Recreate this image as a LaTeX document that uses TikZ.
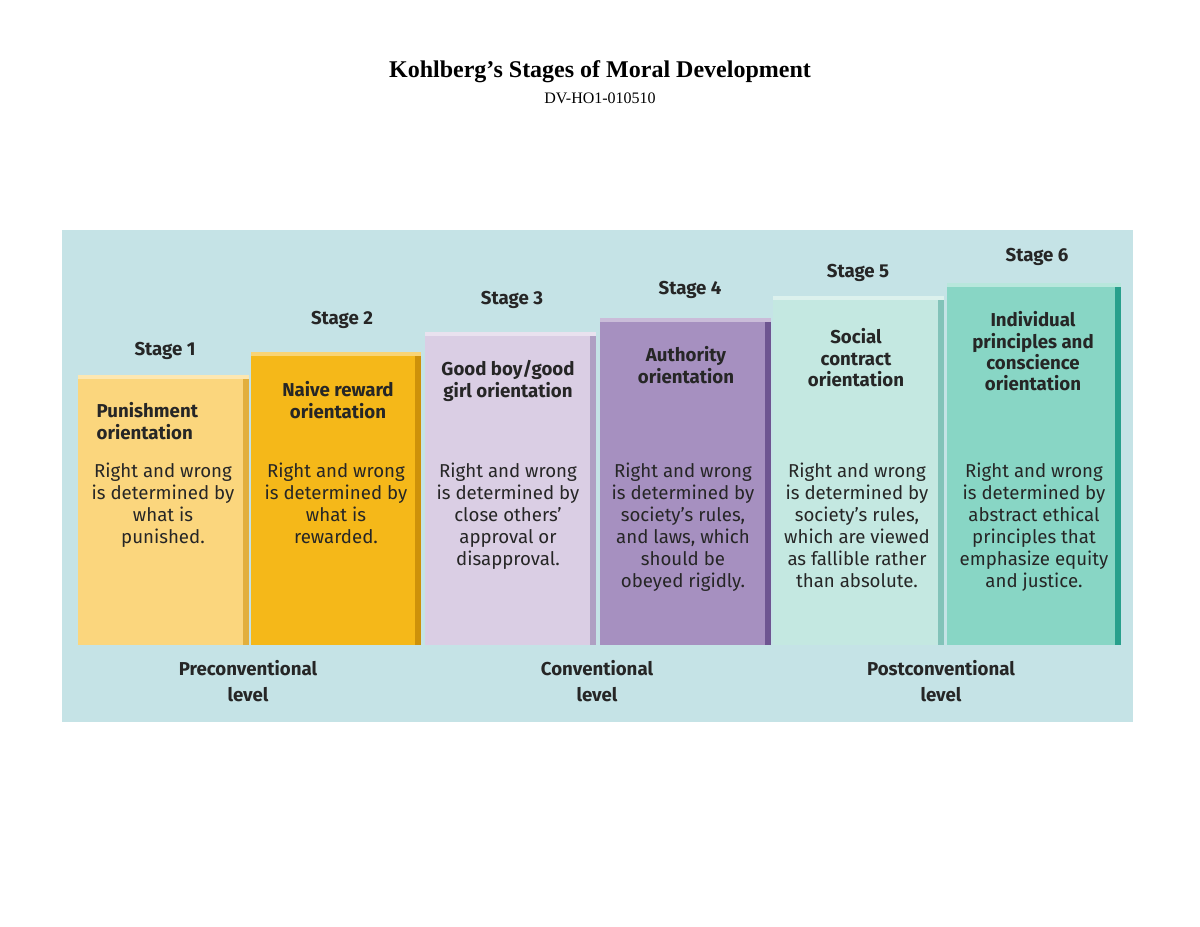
\documentclass[tikz,border=0pt]{standalone}
\usepackage{fontspec}
\setmainfont{Liberation Serif}
\newfontfamily\fira{Fira Sans}
\definecolor{bgc}{RGB}{197,227,230}
\definecolor{ca}{RGB}{251,214,125}\definecolor{cad}{RGB}{226,175,60}
\definecolor{cb}{RGB}{245,184,25}\definecolor{cbd}{RGB}{205,145,10}
\definecolor{cc}{RGB}{218,206,228}\definecolor{ccd}{RGB}{175,160,195}
\definecolor{cdd}{RGB}{110,85,145}\definecolor{cdx}{RGB}{166,144,192}
\definecolor{ce}{RGB}{196,232,225}\definecolor{ced}{RGB}{130,195,185}
\definecolor{cf}{RGB}{136,214,197}\definecolor{cfd}{RGB}{40,160,140}
\begin{document}
\begin{tikzpicture}[x=0.75pt,y=-0.75pt,
  stg/.style={font=\fira\fontsize{14}{16}\selectfont\bfseries, text=black!85},
  ttl/.style={font=\fira\fontsize{14}{16}\selectfont\bfseries, align=center, text=black!85},
  body/.style={font=\fira\fontsize{14}{16.5}\selectfont, align=center, text=black!85},
  lvl/.style={font=\fira\fontsize{14}{19.5}\selectfont\bfseries, align=center, text=black!85}]
\useasboundingbox (0,0) rectangle (1200,927);
\fill[white] (0,0) rectangle (1200,927);
\node[font=\fontsize{18}{20}\selectfont\bfseries] (title) at (600,72) {Kohlberg’s Stages of Moral Development};
\node[font=\fontsize{12}{14}\selectfont] (sub) at (600,98) {DV-HO1-010510};
\fill[bgc] (62,230) rectangle (1133,722);
\def\col#1#2#3#4#5{%
  \fill[#4] (#1,#3) rectangle (#2,645);
  \fill[#5] (#2-6,#3) rectangle (#2,645);
  \fill[#4!60!white] (#1,#3) rectangle (#2,#3+4);}
\col{78}{249}{375}{ca}{cad}
\col{251}{421}{352}{cb}{cbd}
\col{425}{596}{332}{cc}{ccd}
\col{600}{771}{318}{cdx}{cdd}
\col{773}{944}{296}{ce}{ced}
\col{947}{1121}{283}{cf}{cfd}
\node[stg] (s1) at (165,351) {Stage 1};
\node[stg] (s2) at (342,320) {Stage 2};
\node[stg] (s3) at (512,300) {Stage 3};
\node[stg] (s4) at (690,290) {Stage 4};
\node[stg] (s5) at (858,273) {Stage 5};
\node[stg] (s6) at (1037,257) {Stage 6};
\node[ttl,anchor=north west,align=left] (t1) at (92,398) {Punishment\\orientation};
\node[ttl,anchor=north] (t2) at (338,377) {Naive reward\\orientation};
\node[ttl,anchor=north] (t3) at (508,356) {Good boy/good\\girl orientation};
\node[ttl,anchor=north] (t4) at (686,342) {Authority\\orientation};
\node[ttl,anchor=north] (t5) at (856,324) {Social\\contract\\orientation};
\node[ttl,anchor=north] (t6) at (1033,307) {Individual\\principles and\\conscience\\orientation};
\node[body,anchor=north] (b1) at (163,458) {Right and wrong\\is determined by\\what is\\punished.};
\node[body,anchor=north] (b2) at (336,458) {Right and wrong\\is determined by\\what is\\rewarded.};
\node[body,anchor=north] (b3) at (508,458) {Right and wrong\\is determined by\\close others’\\approval or\\disapproval.};
\node[body,anchor=north] (b4) at (683,458) {Right and wrong\\is determined by\\society’s rules,\\and laws, which\\should be\\obeyed rigidly.};
\node[body,anchor=north] (b5) at (857,458) {Right and wrong\\is determined by\\society’s rules,\\which are viewed\\as fallible rather\\than absolute.};
\node[body,anchor=north] (b6) at (1034,458) {Right and wrong\\is determined by\\abstract ethical\\principles that\\emphasize equity\\and justice.};
\node[lvl] (l1) at (248,681) {Preconventional\\level};
\node[lvl] (l2) at (597,681) {Conventional\\level};
\node[lvl] (l3) at (941,681) {Postconventional\\level};
\end{tikzpicture}
\end{document}
